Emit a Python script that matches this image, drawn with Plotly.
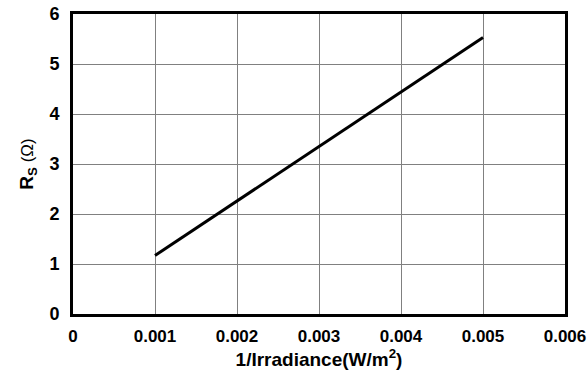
import plotly.graph_objects as go

inv_irradiance = [0.001, 0.005]
rs_ohm = [1.17, 5.53]

x_ticks = [0, 0.001, 0.002, 0.003, 0.004, 0.005, 0.006]
x_tick_labels = ["0", "0.001", "0.002", "0.003", "0.004", "0.005", "0.006"]
y_ticks = [0, 1, 2, 3, 4, 5, 6]

fig = go.Figure()
fig.add_trace(go.Scatter(x=inv_irradiance, y=rs_ohm, mode="lines",
                         line=dict(color="black", width=3), showlegend=False))

font_family = "Liberation Sans, Arial, sans-serif"
fig.update_layout(
    width=587, height=375,
    margin=dict(l=73, r=22, t=14, b=61, autoexpand=False),
    plot_bgcolor="white", paper_bgcolor="white",
    font=dict(family=font_family, color="black", size=17),
)
fig.update_xaxes(
    range=[0, 0.006], tickvals=x_ticks, ticktext=["<b>%s</b>" % t for t in x_tick_labels],
    showgrid=True, gridcolor="#808080", gridwidth=1,
    showline=True, linecolor="black", linewidth=3, mirror=True,
    zeroline=False, ticks="", tickfont=dict(size=17), ticklabelstandoff=5,
    title=dict(text="<b>1/Irradiance(W/m<sup>2</sup>)</b>", font=dict(size=19), standoff=1),
)
fig.update_yaxes(
    range=[0, 6], tickvals=y_ticks, ticktext=["<b>%d</b>" % t for t in y_ticks],
    showgrid=True, gridcolor="#808080", gridwidth=1,
    showline=True, linecolor="black", linewidth=3, mirror=True,
    zeroline=False, ticks="", tickfont=dict(size=18), ticklabelstandoff=7,
    title=dict(text="<b>R<sub>S</sub></b><span style='font-size:17px'> (Ω)</span>",
               font=dict(size=19), standoff=11),
)
fig.write_html("out.html", config={"displayModeBar": False},
               post_script="document.body.style.margin='0';document.body.style.overflow='hidden';")
